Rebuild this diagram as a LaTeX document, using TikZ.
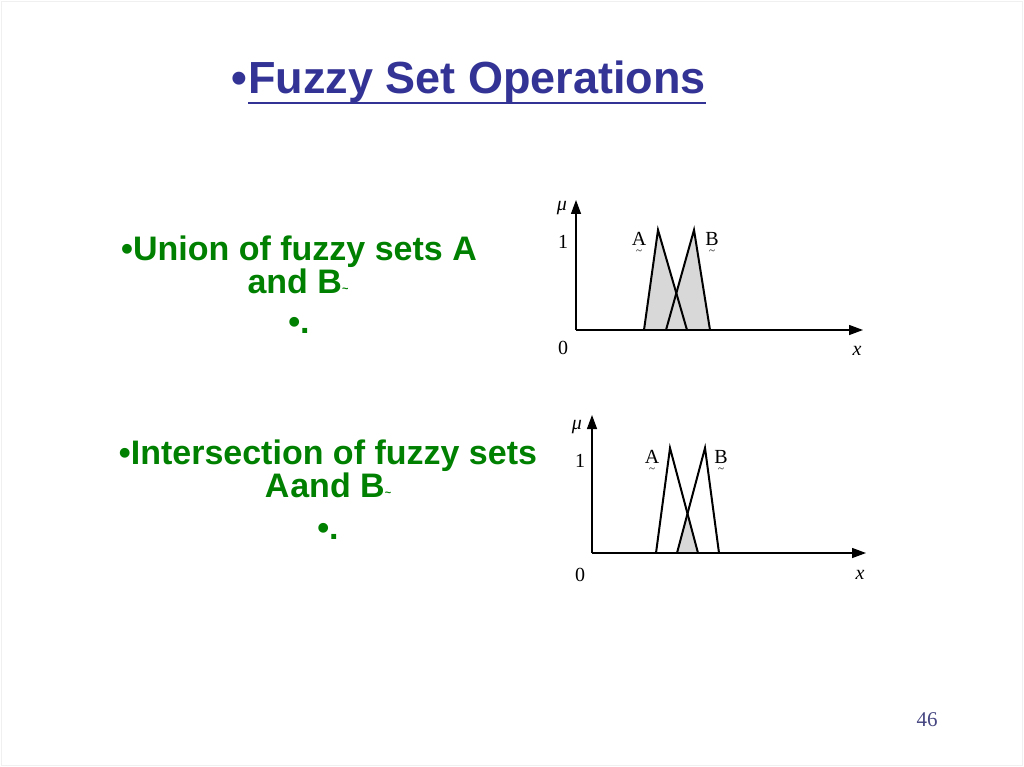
\documentclass[tikz,border=0pt]{standalone}
\usepackage{fontspec}
\setmainfont{Liberation Sans}
\newfontfamily\serif{Liberation Serif}
\usetikzlibrary{arrows.meta}
\definecolor{ttlblue}{RGB}{51,51,150}
\definecolor{txtgreen}{RGB}{0,128,0}
\definecolor{numblue}{RGB}{70,70,130}
\definecolor{fillgray}{RGB}{216,216,216}
\tikzset{
  ttl/.style={inner sep=0pt, text=ttlblue, font=\fontsize{45}{50}\selectfont\bfseries},
  gtxt/.style={inner sep=0pt, text=txtgreen, font=\fontsize{34}{38}\selectfont\bfseries},
  lbl/.style={inner sep=0pt, font=\serif\fontsize{20}{20}\selectfont},
  tld/.style={inner sep=0pt, font=\serif\fontsize{11}{11}\selectfont},
  axis/.style={line width=1.3pt, -{Triangle[length=14pt,width=10pt]}},
  tri/.style={line width=2pt, line join=miter},
  region/.style={fill=fillgray, draw=none},
}
\newcommand{\smtilde}{{\fontsize{11}{11}\selectfont\raisebox{1pt}{\textasciitilde}}}
\begin{document}
\begin{tikzpicture}[x=1pt,y=-1pt]
\useasboundingbox (0,0) rectangle (1024,767);
\fill[white] (0,0) rectangle (1024,767);
\draw[black!6, line width=1pt] (1.5,1.5) rectangle (1022.5,765.5);

% title
\node[ttl, anchor=base west] (bul) at (231,94) {\textbullet};
\node[ttl, anchor=base west] (ttl) at ([xshift=1pt]bul.base east) {Fuzzy Set Operations};
\draw[ttlblue, line width=2.2pt] (ttl.west |- 0,103) -- (ttl.east |- 0,103);

% union text
\node[gtxt, anchor=base] (u1) at (299,260) {\textbullet Union of fuzzy sets A};
\node[gtxt, anchor=base] (u2) at (298,293) {and B\smtilde};
\node[gtxt, anchor=base] (u3) at (299,333) {\textbullet.};

% intersection text
\node[gtxt, anchor=base] (i1) at (328,464) {\textbullet Intersection of fuzzy sets};
\node[gtxt, anchor=base] (i2) at (328,497) {A\hspace{1pt}and B\smtilde};
\node[gtxt, anchor=base] (i3) at (328,539) {\textbullet.};

% ---------- chart 1 (union)
\coordinate (o1) at (576,330);
\coordinate (y1) at (576,200);
\coordinate (x1) at (863,330);
\coordinate (a1l) at (644,330);
\coordinate (a1p) at (658,230);
\coordinate (a1r) at (687,330);
\coordinate (b1l) at (666,330);
\coordinate (b1p) at (694,230);
\coordinate (b1r) at (710,330);
\coordinate (c1) at (676.3,293.2);
\fill[region] (a1l) -- (a1p) -- (c1) -- (b1p) -- (b1r) -- cycle;
\draw[axis] (o1) -- (y1);
\draw[axis] (o1) -- (x1);
\draw[tri] (a1l) -- (a1p) -- (a1r);
\draw[tri] (b1l) -- (b1p) -- (b1r);
\node[lbl] (mu1) at (562,208) {\itshape μ};
\node[lbl] (one1) at (563,242) {1};
\node[lbl] (zero1) at (563,348) {0};
\node[lbl] (xl1) at (857,351) {\itshape x};
\node[lbl] (la1) at (639,239) {A};
\node[tld, anchor=north] (ta1) at ([yshift=-4pt]la1.south) {\textasciitilde};
\node[lbl] (lb1) at (712,239) {B};
\node[tld, anchor=north] (tb1) at ([yshift=-4pt]lb1.south) {\textasciitilde};

% ---------- chart 2 (intersection)
\coordinate (o2) at (592,553);
\coordinate (y2) at (592,415);
\coordinate (x2) at (866,553);
\coordinate (a2l) at (656,553);
\coordinate (a2p) at (670,448);
\coordinate (a2r) at (698,553);
\coordinate (b2l) at (677,553);
\coordinate (b2p) at (705,448);
\coordinate (b2r) at (719,553);
\coordinate (c2) at (687.5,513.6);
\fill[region] (b2l) -- (c2) -- (a2r) -- cycle;
\draw[axis] (o2) -- (y2);
\draw[axis] (o2) -- (x2);
\draw[tri] (a2l) -- (a2p) -- (a2r);
\draw[tri] (b2l) -- (b2p) -- (b2r);
\node[lbl] (mu2) at (577,427) {\itshape μ};
\node[lbl] (one2) at (580,461) {1};
\node[lbl] (zero2) at (580,575) {0};
\node[lbl] (xl2) at (860,575) {\itshape x};
\node[lbl] (la2) at (652,457) {A};
\node[tld, anchor=north] (ta2) at ([yshift=-4pt]la2.south) {\textasciitilde};
\node[lbl] (lb2) at (721,457) {B};
\node[tld, anchor=north] (tb2) at ([yshift=-4pt]lb2.south) {\textasciitilde};

% page number
\node[inner sep=0pt, text=numblue, font=\serif\fontsize{21}{21}\selectfont] (pg) at (927,720) {46};
\end{tikzpicture}
\end{document}
